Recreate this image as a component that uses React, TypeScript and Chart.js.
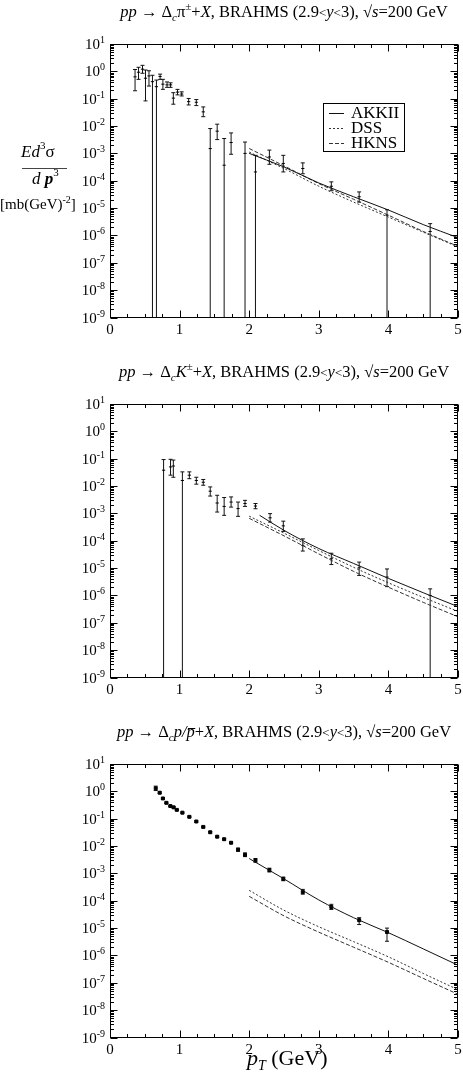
import React, { useEffect, useRef } from "react";
import { Chart, registerables } from "chart.js";
Chart.register(...registerables);

// ---------------- data ----------------
const FLOOR = 1e-12; // lower error edge that runs off the bottom of the plot
const X_MIN = 0;
const X_MAX = 5;
const Y_MIN = 1e-9;
const Y_MAX = 10;
const X_TICKS = [0, 1, 2, 3, 4, 5];
const X_MINOR_STEP = 0.25;
const Y_EXPONENTS = [1, 0, -1, -2, -3, -4, -5, -6, -7, -8, -9];
const THEORY_LABELS = ["AKKII", "DSS", "HKNS"];

// pi+-
const PI_PT = [0.36, 0.41, 0.467, 0.51, 0.56, 0.61, 0.667, 0.72, 0.76, 0.82, 0.87, 0.91, 0.97, 1.03, 1.13, 1.24, 1.34, 1.44, 1.54, 1.64, 1.74, 1.94, 2.09, 2.29, 2.49, 2.77, 3.18, 3.58, 3.98, 4.6];
const PI_VAL = [0.63, 0.93, 1.2, 0.56, 0.68, 0.42, 0.275, 0.65, 0.34, 0.32, 0.32, 0.105, 0.174, 0.148, 0.078, 0.074, 0.033, 1.5e-3, 6.5e-3, 3.7e-4, 2.5e-3, 1.0e-3, 2.1e-4, 7.4e-4, 4.3e-4, 2.8e-4, 6.3e-5, 2.6e-5, 5.5e-6, 1.4e-6];
const PI_LOW = [0.195, 0.51, 0.85, 0.083, 0.29, FLOOR, FLOOR, 0.51, 0.22, 0.26, 0.26, 0.063, 0.138, 0.126, 0.059, 0.056, 0.022, FLOOR, 3.2e-3, FLOOR, 9.3e-4, FLOOR, FLOOR, 4.0e-4, 2.1e-4, 1.8e-4, 4.3e-5, 1.66e-5, FLOOR, FLOOR];
const PI_HIGH = [1.17, 1.41, 1.66, 1.12, 1.05, 0.72, 0.48, 0.79, 0.51, 0.41, 0.38, 0.166, 0.219, 0.178, 0.102, 0.093, 0.05, 8.1e-3, 1.17e-2, 3.5e-3, 5.6e-3, 2.6e-3, 8.5e-4, 1.32e-3, 8.5e-4, 4.5e-4, 9.1e-5, 3.9e-5, 8.7e-6, 2.7e-6];

// K+-
const K_PT = [0.77, 0.87, 0.91, 1.04, 1.14, 1.24, 1.34, 1.44, 1.54, 1.64, 1.74, 1.84, 1.94, 2.09, 2.3, 2.49, 2.77, 3.18, 3.58, 3.98, 4.6];
const K_VAL = [0.038, 0.05, 0.054, 0.016, 0.025, 0.016, 0.0138, 6.5e-3, 2.4e-3, 1.8e-3, 2.6e-3, 1.5e-3, 2.3e-3, 1.86e-3, 6.9e-4, 3.5e-4, 6.8e-5, 2.2e-5, 1.02e-5, 4.7e-6, 1.0e-6];
const K_LOW = [FLOOR, 0.025, 0.021, FLOOR, 0.0186, 0.0117, 0.0107, 4.3e-3, 1.12e-3, 8.5e-4, 1.7e-3, 7.8e-4, 1.8e-3, 1.48e-3, 4.8e-4, 2.2e-4, 4.2e-5, 1.35e-5, 5.4e-6, 2.1e-6, FLOOR];
const K_HIGH = [0.093, 0.095, 0.089, 0.033, 0.033, 0.021, 0.0174, 9.3e-3, 4.6e-3, 3.8e-3, 4.0e-3, 2.6e-3, 3.0e-3, 2.3e-3, 9.8e-4, 5.2e-4, 1.17e-4, 3.5e-5, 1.66e-5, 9.3e-6, 1.74e-6];

// p / pbar
const P_PT = [0.657, 0.714, 0.76, 0.81, 0.867, 0.914, 0.96, 1.04, 1.14, 1.24, 1.34, 1.44, 1.54, 1.64, 1.74, 1.84, 1.94, 2.09, 2.29, 2.49, 2.77, 3.18, 3.58, 3.98];
const P_VAL = [1.29, 0.89, 0.55, 0.38, 0.29, 0.26, 0.21, 0.166, 0.117, 0.079, 0.05, 0.032, 0.022, 0.0178, 0.0132, 7.4e-3, 4.8e-3, 3.0e-3, 1.32e-3, 6.3e-4, 2.1e-4, 5.9e-5, 1.95e-5, 7.2e-6];
const P_LOW = [1.07, 0.83, 0.52, 0.36, 0.275, 0.245, 0.2, 0.158, 0.111, 0.075, 0.047, 0.03, 0.0207, 0.0167, 0.0124, 6.4e-3, 4.1e-3, 2.55e-3, 1.13e-3, 5.4e-4, 1.74e-4, 4.8e-5, 1.35e-5, 3.3e-6];
const P_HIGH = [1.55, 0.95, 0.58, 0.4, 0.305, 0.275, 0.22, 0.174, 0.123, 0.083, 0.053, 0.034, 0.0233, 0.0189, 0.014, 8.4e-3, 5.6e-3, 3.5e-3, 1.55e-3, 7.3e-4, 2.6e-4, 7.4e-5, 2.4e-5, 1.0e-5];

// theory curves
const CURVE_PT = [2, 2.5, 3, 3.5, 4, 4.5, 5];
const K_AKKII_PT = [2.15, 2.5, 3, 3.5, 4, 4.5, 5];
const PI_AKKII = [1.0e-3, 3.2e-4, 8.3e-5, 2.6e-5, 8.5e-6, 2.5e-6, 8.3e-7];
const PI_DSS = [1.12e-3, 2.8e-4, 6.3e-5, 1.66e-5, 4.7e-6, 1.32e-6, 3.8e-7];
const PI_HKNS = [1.51e-3, 3.5e-4, 7.9e-5, 2.1e-5, 5.5e-6, 1.41e-6, 4.0e-7];
const K_AKKII = [8.5e-4, 2.4e-4, 5.2e-5, 1.48e-5, 4.2e-6, 1.26e-6, 3.9e-7];
const K_DSS = [7.9e-4, 1.9e-4, 4.4e-5, 1.07e-5, 2.9e-6, 8.5e-7, 2.6e-7];
const K_HKNS = [6.6e-4, 1.51e-4, 3.3e-5, 7.6e-6, 2.0e-6, 5.6e-7, 1.66e-7];
const P_AKKII = [3.5e-3, 6.3e-4, 1.07e-4, 2.4e-5, 6.8e-6, 1.74e-6, 4.4e-7];
const P_DSS = [2.4e-4, 4.5e-5, 1.12e-5, 3.2e-6, 8.9e-7, 2.2e-7, 5.6e-8];
const P_HKNS = [1.45e-4, 2.8e-5, 7.1e-6, 2.0e-6, 5.6e-7, 1.45e-7, 3.8e-8];

// ---------------- helpers ----------------
const FAMILY = '"Liberation Serif", "Times New Roman", Times, serif';
type Seg = { t: string; size?: number; i?: boolean; b?: boolean; dy?: number; over?: boolean };
const fnt = (size: number, i?: boolean, b?: boolean) =>
  `${i ? "italic " : ""}${b ? "bold " : ""}${size}px ${FAMILY}`;

function drawRich(ctx: CanvasRenderingContext2D, segs: Seg[], x: number, y: number, align: "left" | "center" | "right", base = 15) {
  const widths = segs.map((s) => {
    ctx.font = fnt(s.size ?? base, s.i, s.b);
    return ctx.measureText(s.t).width;
  });
  const total = widths.reduce((a, b) => a + b, 0);
  let cx = align === "center" ? x - total / 2 : align === "right" ? x - total : x;
  ctx.textAlign = "left";
  ctx.textBaseline = "alphabetic";
  segs.forEach((s, k) => {
    const size = s.size ?? base;
    ctx.font = fnt(size, s.i, s.b);
    ctx.fillText(s.t, cx, y + (s.dy ?? 0));
    if (s.over) {
      ctx.beginPath();
      ctx.lineWidth = 1;
      const oy = Math.round(y - size * 0.56) + 0.5;
      ctx.moveTo(cx + 1.5, oy);
      ctx.lineTo(cx + widths[k] + 0.5, oy);
      ctx.stroke();
    }
    cx += widths[k];
  });
}

const SUB = { size: 11, i: true, dy: 4 };
const titleTail: Seg[] = [
  { t: ", BRAHMS (2.9" },
  { t: "<", size: 13 },
  { t: "y", i: true },
  { t: "<", size: 13 },
  { t: "3), √" },
  { t: "s", i: true },
  { t: "=200 GeV" },
];
const TITLE_PI: Seg[] = [{ t: "pp", i: true }, { t: " → Δ" }, { t: "c", ...SUB }, { t: "π" }, { t: "±", size: 11, dy: -7 }, { t: "+" }, { t: "X", i: true }, ...titleTail];
const TITLE_K: Seg[] = [{ t: "pp", i: true }, { t: " → Δ" }, { t: "c", ...SUB }, { t: "K", i: true }, { t: "±", size: 11, dy: -7 }, { t: "+" }, { t: "X", i: true }, ...titleTail];
const TITLE_P: Seg[] = [{ t: "pp", i: true }, { t: " → Δ" }, { t: "c", ...SUB }, { t: "p", i: true }, { t: "/", i: true }, { t: "p", i: true, over: true }, { t: "+" }, { t: "X", i: true }, ...titleTail];

type PanelCfg = {
  title: Seg[];
  pt: number[];
  val: number[];
  low: number[];
  high: number[];
  square: boolean;
  curvesPt: number[][];
  curves: number[][];
  legend: boolean;
  yLabel: boolean;
  xLabel: boolean;
  height: number;
  top: number;
};

const STYLES = [
  { dash: [] as number[], color: "#111" },
  { dash: [2, 2], color: "#333" },
  { dash: [4, 2], color: "#333" },
];

const PANELS: PanelCfg[] = [
  { title: TITLE_PI, pt: PI_PT, val: PI_VAL, low: PI_LOW, high: PI_HIGH, square: false, curvesPt: [CURVE_PT, CURVE_PT, CURVE_PT], curves: [PI_AKKII, PI_DSS, PI_HKNS], legend: true, yLabel: true, xLabel: false, height: 360, top: 0 },
  { title: TITLE_K, pt: K_PT, val: K_VAL, low: K_LOW, high: K_HIGH, square: false, curvesPt: [K_AKKII_PT, CURVE_PT, CURVE_PT], curves: [K_AKKII, K_DSS, K_HKNS], legend: false, yLabel: false, xLabel: false, height: 360, top: 360 },
  { title: TITLE_P, pt: P_PT, val: P_VAL, low: P_LOW, high: P_HIGH, square: true, curvesPt: [CURVE_PT, CURVE_PT, CURVE_PT], curves: [P_AKKII, P_DSS, P_HKNS], legend: false, yLabel: false, xLabel: true, height: 355, top: 720 },
];

function Panel({ cfg }: { cfg: PanelCfg }) {
  const ref = useRef<HTMLCanvasElement | null>(null);
  useEffect(() => {
    if (!ref.current) return;
    const errData: any[] = [];
    cfg.pt.forEach((x, k) => {
      errData.push({ x, y: cfg.low[k] }, { x, y: cfg.high[k] }, { x, y: null });
    });
    const datasets: any[] = [
      {
        label: "errors",
        data: errData,
        showLine: true,
        spanGaps: false,
        borderColor: "#111",
        borderWidth: 1,
        pointStyle: "line",
        pointRadius: 2,
        pointBorderWidth: 1,
        pointBorderColor: "#111",
        order: 2,
      },
      {
        label: "data",
        data: cfg.pt.map((x, k) => ({ x, y: cfg.val[k] })),
        showLine: false,
        pointStyle: cfg.square ? "rect" : "line",
        pointRadius: cfg.square ? 2.1 : 1.6,
        pointBorderWidth: 1,
        pointBackgroundColor: "#000",
        pointBorderColor: "#000",
        order: 1,
      },
      ...cfg.curves.map((ys, c) => ({
        label: THEORY_LABELS[c],
        data: cfg.curvesPt[c].map((x, k) => ({ x, y: ys[k] })),
        showLine: true,
        borderColor: STYLES[c].color,
        borderDash: STYLES[c].dash,
        borderWidth: 1,
        pointRadius: 0,
        cubicInterpolationMode: "monotone",
        order: 0,
      })),
    ];

    const frame = {
      id: "frame",
      afterDatasetsDraw(chart: any) {
        const ctx: CanvasRenderingContext2D = chart.ctx;
        const { left, right, top, bottom } = chart.chartArea;
        const xs = chart.scales.x;
        const ys = chart.scales.y;
        ctx.save();
        ctx.strokeStyle = "#000";
        ctx.fillStyle = "#000";
        ctx.lineWidth = 1;
        const L = Math.round(left) + 0.5, R = Math.round(right) - 0.5, T = Math.round(top) + 0.5, B = Math.round(bottom) - 0.5;
        ctx.strokeRect(L, T, R - L, B - T);
        ctx.beginPath();
        // x ticks
        const nx = Math.round((X_MAX - X_MIN) / X_MINOR_STEP);
        for (let k = 0; k <= nx; k++) {
          const v = X_MIN + k * X_MINOR_STEP;
          const px = Math.round(xs.getPixelForValue(v)) + 0.5;
          const major = X_TICKS.includes(v);
          const len = major ? 7 : 3.5;
          ctx.moveTo(px, B); ctx.lineTo(px, B - len);
          ctx.moveTo(px, T); ctx.lineTo(px, T + len);
        }
        // y ticks
        Y_EXPONENTS.forEach((e) => {
          for (let m = 1; m <= 9; m++) {
            const v = m * Math.pow(10, e);
            if (v > Y_MAX * 1.0001) break;
            const py = Math.round(ys.getPixelForValue(v)) + 0.5;
            const len = m === 1 ? 7 : 3.5;
            ctx.moveTo(L, py); ctx.lineTo(L + len, py);
            ctx.moveTo(R, py); ctx.lineTo(R - len, py);
          }
        });
        ctx.stroke();
        // y tick labels
        Y_EXPONENTS.forEach((e) => {
          const py = ys.getPixelForValue(Math.pow(10, e));
          drawRich(ctx, [{ t: "10", size: 15 }, { t: String(e), size: 10, dy: -6 }], left - 5, py + 5, "right");
        });
        // x tick labels
        ctx.font = fnt(15);
        ctx.textAlign = "center";
        ctx.textBaseline = "top";
        X_TICKS.forEach((v) => {
          ctx.fillText(String(v), xs.getPixelForValue(v), bottom + 5);
        });
        // title
        drawRich(ctx, cfg.title, (left + right) / 2, 17, "center", 16.5);
        // legend
        if (cfg.legend) {
          ctx.lineWidth = 1;
          ctx.strokeStyle = "#000";
          ctx.strokeRect(323.5, 103.5, 81, 48);
          THEORY_LABELS.forEach((lab, c) => {
            const y = 113 + c * 14.8;
            ctx.beginPath();
            ctx.setLineDash(STYLES[c].dash);
            ctx.strokeStyle = STYLES[c].color;
            ctx.moveTo(329, Math.round(y) + 0.5);
            ctx.lineTo(344, Math.round(y) + 0.5);
            ctx.stroke();
            ctx.setLineDash([]);
            ctx.font = fnt(17);
            ctx.textAlign = "left";
            ctx.textBaseline = "middle";
            ctx.fillStyle = "#000";
            ctx.fillText(lab, 351, y + 1);
          });
        }
        // y axis label
        if (cfg.yLabel) {
          drawRich(ctx, [{ t: "Ed", i: true }, { t: "3", size: 11, dy: -8 }, { t: "σ" }], 21, 157, "left", 17);
          ctx.beginPath();
          ctx.strokeStyle = "#444";
          ctx.moveTo(22, 168.5);
          ctx.lineTo(67, 168.5);
          ctx.stroke();
          drawRich(ctx, [{ t: "d", i: true }, { t: " " }, { t: "p", i: true, b: true }, { t: "3", size: 11, dy: -8 }], 32, 184, "left", 17);
          drawRich(ctx, [{ t: "[mb(GeV)" }, { t: "-2", size: 10, dy: -6 }, { t: "]" }], 0, 209, "left", 15);
        }
        // x axis label
        if (cfg.xLabel) {
          drawRich(ctx, [{ t: "p", i: true }, { t: "T", i: true, size: 14, dy: 5 }, { t: " (GeV)" }], 247, 345, "left", 22);
        }
        ctx.restore();
      },
    };

    const chart = new Chart(ref.current, {
      type: "line",
      data: { datasets },
      options: {
        responsive: false,
        maintainAspectRatio: false,
        animation: false,
        devicePixelRatio: 1,
        events: [],
        layout: { padding: { left: 110, right: 3, top: 44, bottom: cfg.height - 317.5 } },
        plugins: { legend: { display: false }, tooltip: { enabled: false }, title: { display: false } },
        scales: {
          x: { type: "linear", min: X_MIN, max: X_MAX, display: false },
          y: { type: "logarithmic", min: Y_MIN, max: Y_MAX, display: false },
        },
      } as any,
      plugins: [frame],
    });
    return () => chart.destroy();
  }, [cfg]);
  return (
    <canvas
      ref={ref}
      width={463}
      height={cfg.height}
      style={{ position: "absolute", left: 0, top: cfg.top, width: 463, height: cfg.height, display: "block" }}
    />
  );
}

export default function App() {
  return (
    <div style={{ position: "absolute", left: 0, top: 0, width: 463, height: 1075, background: "#fff", overflow: "hidden" }}>
      {PANELS.map((p, i) => (
        <Panel key={i} cfg={p} />
      ))}
    </div>
  );
}
